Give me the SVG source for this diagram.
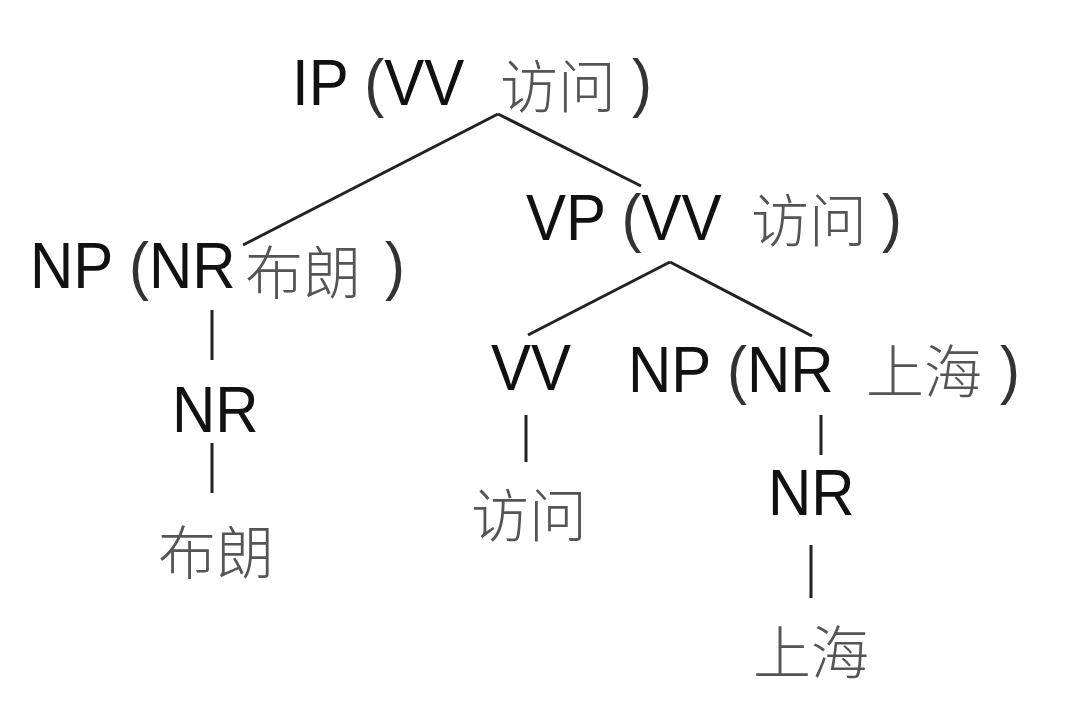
<svg xmlns="http://www.w3.org/2000/svg" width="1082" height="710" viewBox="0 0 1082 710">
<style>
.lat{font-family:"Liberation Sans",Arial,sans-serif;font-size:60px;fill:#111}
.par{fill:#333}
.zh{font-family:"Noto Sans CJK SC","Noto Sans",sans-serif;font-size:58px;font-weight:300;fill:#555}
.edge{stroke:#222;stroke-width:3;fill:none;stroke-linecap:butt}
</style>
<rect width="1082" height="710" fill="#fff"/>
<g id="connectors">
<line class="edge" x1="498" y1="114" x2="243" y2="245"/>
<line class="edge" x1="498" y1="114" x2="641" y2="186"/>
<line class="edge" x1="670" y1="262" x2="528" y2="335"/>
<line class="edge" x1="670" y1="262" x2="812" y2="336"/>
<line class="edge" x1="212" y1="310" x2="212" y2="360"/>
<line class="edge" x1="212" y1="443" x2="212" y2="493"/>
<line class="edge" x1="526" y1="415" x2="526" y2="462"/>
<line class="edge" x1="821" y1="415" x2="821" y2="455"/>
<line class="edge" x1="811" y1="545" x2="811" y2="598"/>
</g>
<g id="ip">
<text class="lat" transform="translate(292,105) scale(1,1.08)">IP <tspan class="par">(</tspan>VV</text>
<text class="zh" x="500" y="108">访问</text>
<text class="lat par" transform="translate(632,105) scale(1,1.08)">)</text>
</g>
<g id="np1">
<text class="lat" transform="translate(30,288) scale(1,1.08)">NP <tspan class="par">(</tspan>NR</text>
<text class="zh" x="245" y="294">布朗</text>
<text class="lat par" transform="translate(385,288) scale(1,1.08)">)</text>
</g>
<g id="nr1">
<text class="lat" transform="translate(172,432) scale(1,1.08)">NR</text>
</g>
<g id="leaf1">
<text class="zh" x="158" y="574">布朗</text>
</g>
<g id="vp">
<text class="lat" transform="translate(526,240) scale(1,1.08)">VP <tspan class="par">(</tspan>VV</text>
<text class="zh" x="751" y="242">访问</text>
<text class="lat par" transform="translate(882,240) scale(1,1.08)">)</text>
</g>
<g id="vv">
<text class="lat" transform="translate(491,390) scale(1,1.08)">VV</text>
</g>
<g id="leaf2">
<text class="zh" x="471" y="537">访问</text>
</g>
<g id="np2">
<text class="lat" transform="translate(628,392) scale(1,1.08)">NP <tspan class="par">(</tspan>NR</text>
<text class="zh" x="866" y="393">上海</text>
<text class="lat par" transform="translate(1000,392) scale(1,1.08)">)</text>
</g>
<g id="nr2">
<text class="lat" transform="translate(768,515) scale(1,1.08)">NR</text>
</g>
<g id="leaf3">
<text class="zh" x="753" y="674">上海</text>
</g>
</svg>
